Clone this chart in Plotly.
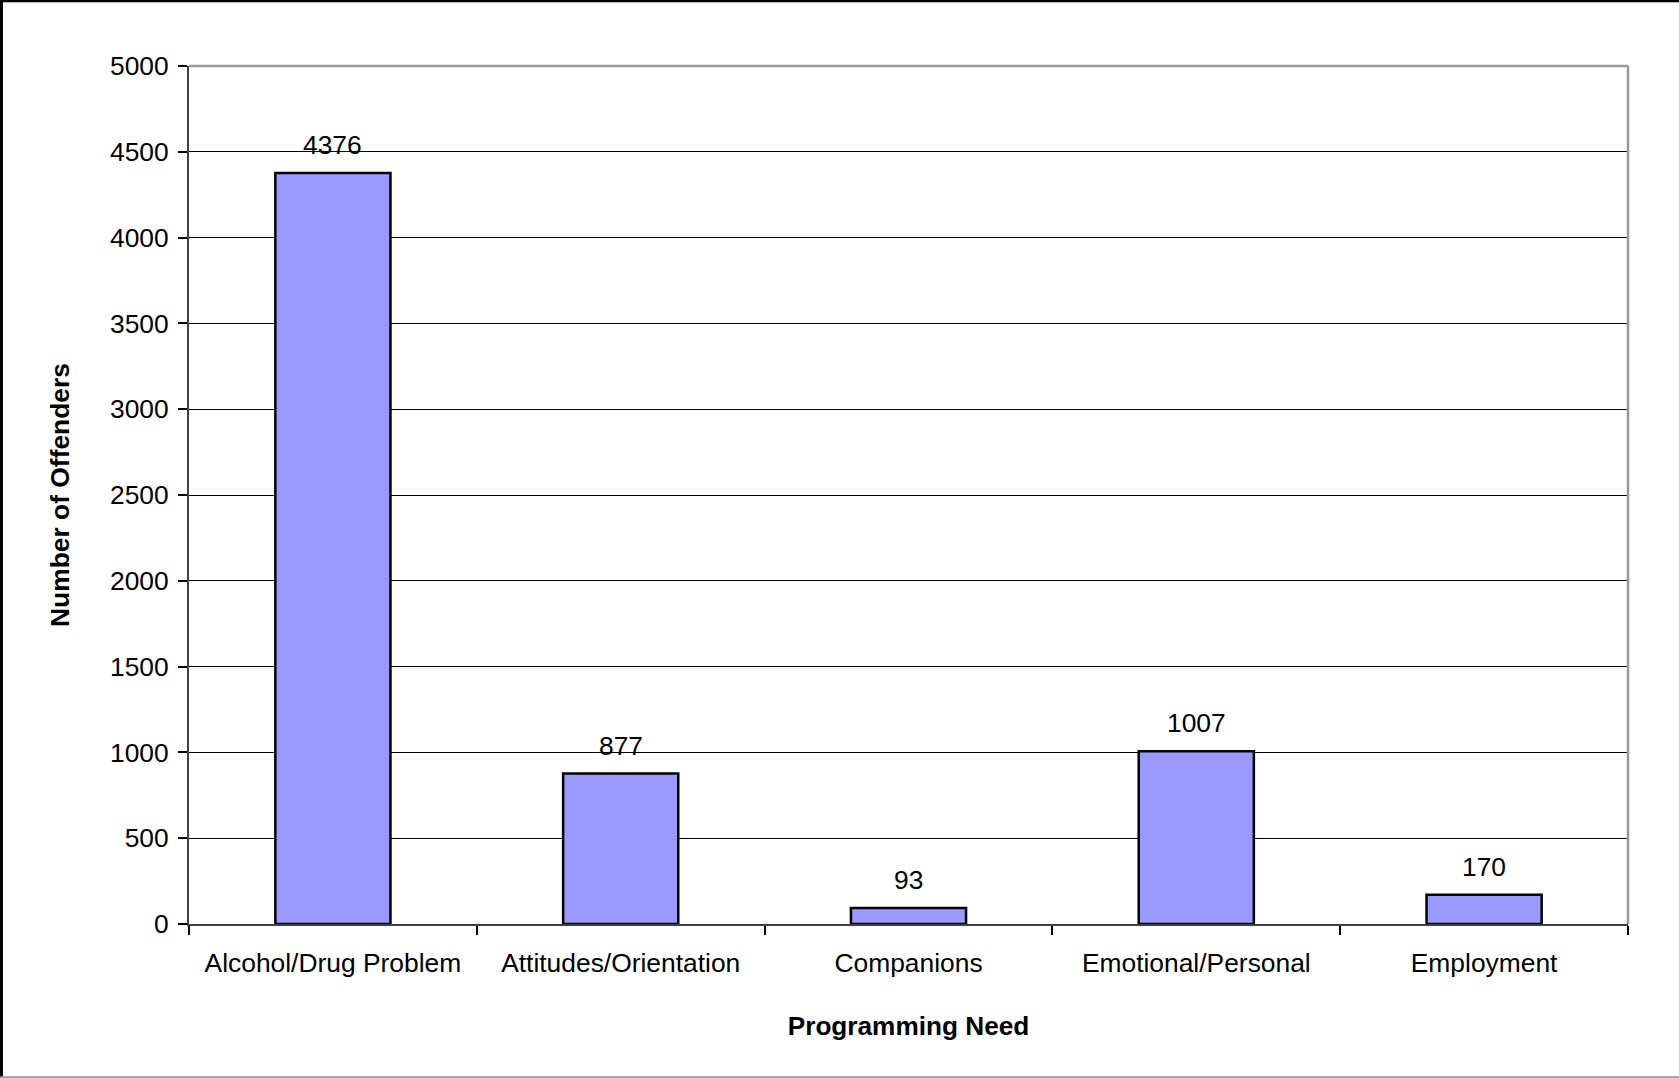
import plotly.graph_objects as go

# Offenders by programming need
categories = [
    "Alcohol/Drug Problem",
    "Attitudes/Orientation",
    "Companions",
    "Emotional/Personal",
    "Employment",
]
offenders = [4376, 877, 93, 1007, 170]
y_tick_values = [0, 500, 1000, 1500, 2000, 2500, 3000, 3500, 4000, 4500, 5000]

W, H = 1679, 1078
ML, MR, MT, MB = 189, 51, 66, 154
PW = W - ML - MR
PH = H - MT - MB
FONT = "Liberation Sans, Arial, sans-serif"
TEXT_SIZE = 26.4


def paper_x(px):
    return (px - ML) / PW


def paper_y(py):
    return (H - MB - py) / PH


fig = go.Figure(
    go.Bar(
        x=categories,
        y=offenders,
        width=0.4,
        marker=dict(color="#9999FF", line=dict(color="#000000", width=2.5)),
        showlegend=False,
        hoverinfo="x+y",
    )
)

# value labels above each bar
for cat, val in zip(categories, offenders):
    fig.add_annotation(
        x=cat, y=val, xref="x", yref="y",
        text=str(val), showarrow=False,
        yanchor="middle", yshift=28,
        font=dict(family=FONT, size=TEXT_SIZE, color="#000000"),
    )

shapes = [
    # plot-area frame (top and right)
    dict(type="line", xref="paper", yref="paper", x0=0, x1=1, y0=1, y1=1,
         line=dict(color="#999999", width=2.5)),
    dict(type="line", xref="paper", yref="paper", x0=1, x1=1, y0=0, y1=1,
         line=dict(color="#999999", width=2.5)),
    # chart-area border
    dict(type="line", xref="paper", yref="paper",
         x0=paper_x(1.5), x1=paper_x(1.5), y0=paper_y(0), y1=paper_y(1077),
         line=dict(color="#000000", width=3)),
    dict(type="line", xref="paper", yref="paper",
         x0=paper_x(0), x1=paper_x(W), y0=paper_y(1), y1=paper_y(1),
         line=dict(color="#000000", width=2.5)),
    dict(type="line", xref="paper", yref="paper",
         x0=paper_x(0), x1=paper_x(W), y0=paper_y(1077), y1=paper_y(1077),
         line=dict(color="#888888", width=1.5)),
]

fig.update_layout(
    width=W, height=H,
    margin=dict(l=ML, r=MR, t=MT, b=MB, pad=0),
    paper_bgcolor="#FFFFFF",
    plot_bgcolor="#FFFFFF",
    font=dict(family=FONT, color="#000000"),
    shapes=shapes,
    bargap=0.6,
    xaxis=dict(
        range=[-0.5, 4.5],
        showline=True, linecolor="#404040", linewidth=2,
        ticks="outside", tickson="boundaries", ticklen=9,
        tickcolor="#000000", tickwidth=1.5,
        tickfont=dict(family=FONT, size=TEXT_SIZE),
        ticklabelstandoff=14,
        showgrid=False, zeroline=False,
        title=dict(text="Programming Need", standoff=40,
                   font=dict(family=FONT, size=26.2, weight="bold")),
    ),
    yaxis=dict(
        range=[0, 5000],
        tickmode="array", tickvals=y_tick_values,
        showline=True, linecolor="#404040", linewidth=2,
        ticks="outside", ticklen=9, tickcolor="#000000", tickwidth=1.5,
        tickfont=dict(family=FONT, size=TEXT_SIZE),
        ticklabelstandoff=4,
        showgrid=True, gridcolor="#000000", gridwidth=1,
        zeroline=False,
        title=dict(text="Number of Offenders", standoff=33,
                   font=dict(family=FONT, size=26.4, weight="bold")),
    ),
)

fig.write_html("out.html")
